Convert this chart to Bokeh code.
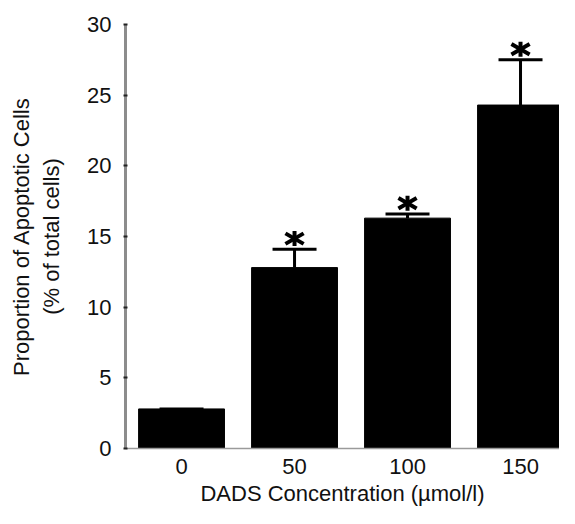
import math
from bokeh.plotting import figure
from bokeh.models import Range1d, FixedTicker, ColumnDataSource, Whisker, TeeHead
from bokeh.embed import file_html
from bokeh.resources import INLINE

# ---- data ----
categories = ["0", "50", "100", "150"]          # DADS concentration (µmol/l)
means = [2.8, 12.8, 16.3, 24.3]                 # % apoptotic cells
errors = [0.0, 1.3, 0.3, 3.2]                   # error (upper only)
significant = [False, True, True, True]         # asterisk markers
y_ticks = [0, 5, 10, 15, 20, 25, 30]

xpos = list(range(len(categories)))
upper = [m + e for m, e in zip(means, errors)]

FONT = "Liberation Sans"
TXT = "#111111"

p = figure(width=559, height=508, output_backend="svg", toolbar_location=None,
           x_range=Range1d(-0.496, 3.345), y_range=Range1d(0, 30),
           min_border_left=125, min_border_top=24, min_border_right=0,
           min_border_bottom=10)
p.background_fill_color = "white"
p.border_fill_color = "white"
p.outline_line_color = None
p.xgrid.grid_line_color = None
p.ygrid.grid_line_color = None

src = ColumnDataSource(dict(x=xpos, top=means, upper=upper))
p.vbar(x="x", top="top", width=0.76, source=src, fill_color="black",
       line_color="black")

wh = Whisker(source=src, base="x", lower="top", upper="upper",
             dimension="height", line_color="black", line_width=3,
             upper_head=TeeHead(size=44, line_color="black", line_width=3),
             lower_head=None, level="overlay")
p.add_layout(wh)

# significance asterisks: three crossing dashes (6 arms) just above each cap
sx = [x for x, s in zip(xpos, significant) if s]
sy = [u + 0.75 for u, s in zip(upper, significant) if s]
p.scatter(x=sx, y=sy, marker="dash", size=15, angle=math.pi / 2,
          line_color="black", line_width=4)
for a in (math.pi / 6, -math.pi / 6):
    p.scatter(x=sx, y=sy, marker="dash", size=21, angle=a,
              line_color="black", line_width=4)

# y axis
ya = p.yaxis[0]
ya.ticker = FixedTicker(ticks=y_ticks)
ya.axis_label = "Proportion of Apoptotic Cells\n(% of total cells)"
ya.axis_label_text_font = FONT
ya.axis_label_text_font_size = "22px"
ya.axis_label_text_font_style = "normal"
ya.axis_label_text_color = TXT
ya.axis_label_standoff = 20
ya.major_label_text_font = FONT
ya.major_label_text_font_size = "22px"
ya.major_label_text_color = TXT
ya.major_label_standoff = 12
ya.axis_line_color = "#8c8c8c"
ya.axis_line_width = 3
ya.major_tick_line_color = "#222222"
ya.major_tick_line_width = 2
ya.major_tick_in = 2
ya.major_tick_out = 2
ya.minor_tick_line_color = None

# x axis
xa = p.xaxis[0]
xa.ticker = FixedTicker(ticks=xpos)
xa.major_label_overrides = {x: c for x, c in zip(xpos, categories)}
xa.axis_label = "DADS Concentration (µmol/l)"
xa.axis_label_text_font = FONT
xa.axis_label_text_font_size = "22px"
xa.axis_label_text_font_style = "normal"
xa.axis_label_text_color = TXT
xa.axis_label_standoff = 4
xa.major_label_text_font = FONT
xa.major_label_text_font_size = "22px"
xa.major_label_text_color = TXT
xa.major_label_standoff = 10
xa.axis_line_color = "#9a9a9a"
xa.axis_line_width = 1.5
xa.major_tick_line_color = None
xa.major_tick_in = 0
xa.major_tick_out = 0
xa.minor_tick_line_color = None

open("out.html", "w").write(file_html(p, INLINE))
